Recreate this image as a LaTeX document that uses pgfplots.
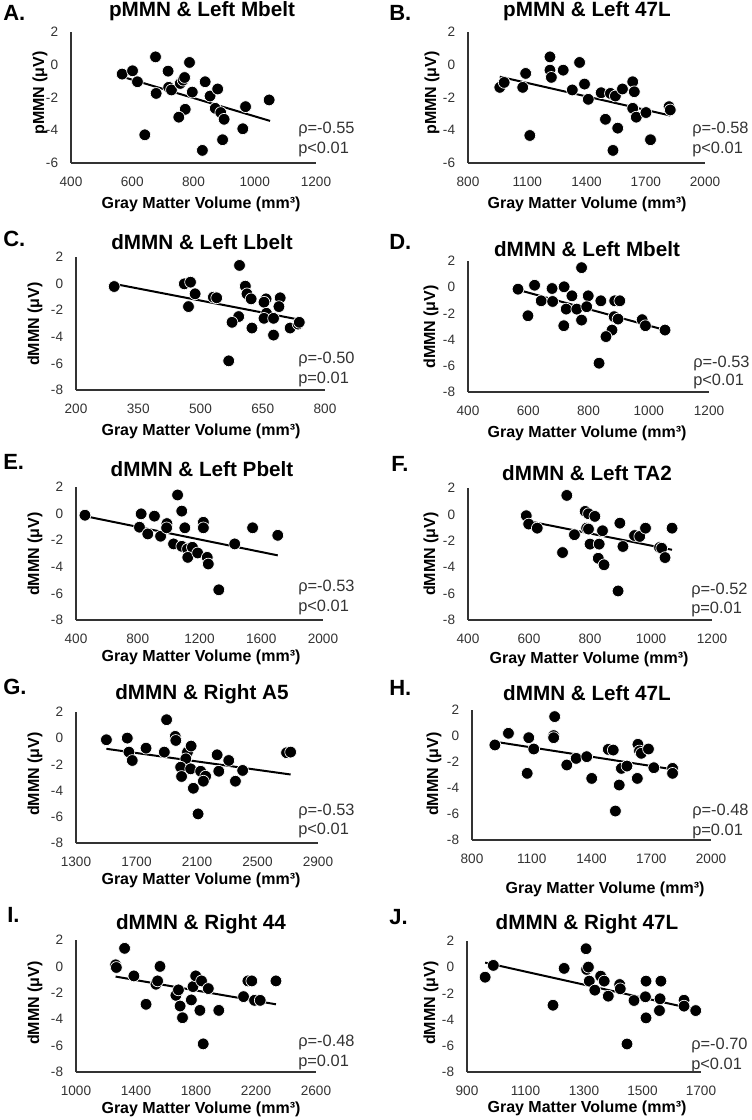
\documentclass[border=0pt]{standalone}
\usepackage{fontspec}
\setmainfont{Liberation Sans}
\usepackage{pgfplots}
\pgfplotsset{compat=1.18}

\pgfplotsset{
  panel/.style={
    scale only axis, anchor=south west, clip=false,
    axis x line=bottom, axis y line=left,
    axis line style={-, draw=black!80, line width=0.8pt},
    major tick length=0pt, tick style={draw=none},
    enlargelimits=false,
    /pgf/number format/assume math mode=true,
    /pgf/number format/1000 sep={},
    scaled ticks=false,
    ticklabel style={font=\fontsize{10.2}{12}\selectfont, text=black!80, inner sep=0pt},
    xticklabel style={anchor=center, yshift=-14pt},
    yticklabel style={anchor=east, xshift=-9.5pt},
  },
  six/.style={ymin=-6, ymax=2, ytick={-6,-4,...,2}},
  eight/.style={ymin=-8, ymax=2, ytick={-8,-6,...,2}},
  dots/.style={only marks, mark=*, mark size=4.4pt,
    mark options={fill=black, draw=white, line width=0.5pt}},
  trend/.style={no marks, black, line width=1.5pt},
}

\begin{document}
\begin{tikzpicture}
\useasboundingbox (0,0) rectangle (564pt,-840pt);

% A
\begin{axis}[panel, six, at={(53.25pt,-122.25pt)}, width=183.75pt, height=98.25pt,
  xmin=400, xmax=1200, xtick={400,600,...,1200}]
\addplot[dots] table {
567 -0.57
601 -0.37
617 -1.04
676 0.48
678 -1.75
641 -4.28
717 -0.39
719 -1.38
728 -1.54
757 -1.14
766 -0.94
771 -0.78
787 0.14
796 -1.67
773 -2.72
752 -3.20
838 -1.04
854 -1.91
879 -1.48
871 -2.66
889 -2.92
900 -3.33
895 -4.58
829 -5.23
970 -2.56
961 -3.91
1047 -2.15
};
\addplot[trend] coordinates {(567,-0.73) (1050,-3.43)};
\end{axis}

% B
\begin{axis}[panel, six, at={(351pt,-122.25pt)}, width=177.75pt, height=98.25pt,
  xmin=800, xmax=2000, xtick={800,1100,...,2000}]
\addplot[dots] table {
961 -1.38
983 -1.08
1077 -1.38
1092 -0.53
1113 -4.32
1215 0.48
1215 -0.33
1222 -0.77
1282 -0.33
1328 -1.54
1365 0.14
1390 -1.18
1409 -2.11
1474 -1.71
1496 -3.33
1521 -1.75
1546 -1.91
1558 -3.87
1534 -5.23
1582 -1.48
1634 -1.04
1642 -1.65
1634 -2.66
1652 -3.20
1701 -2.92
1724 -4.58
1818 -2.56
1824 -2.76
};
\addplot[trend] coordinates {(961,-0.73) (1824,-3.10)};
\end{axis}

% C
\begin{axis}[panel, eight, at={(57pt,-292.5pt)}, width=186.75pt, height=99.75pt,
  xmin=200, xmax=800, xtick={200,350,...,800}]
\addplot[dots] table {
292 -0.22
461 -0.02
476 0.11
487 -0.77
471 -1.73
531 -1.02
539 -1.07
594 1.37
608 -0.19
612 -0.77
622 -1.15
592 -2.48
576 -2.91
568 -5.81
624 -3.34
658 -1.15
653 -1.40
659 -2.23
653 -2.61
676 -2.61
676 -3.87
692 -1.07
689 -1.73
716 -3.34
735 -3.04
738 -2.91
};
\addplot[trend] coordinates {(292,-0.02) (738,-2.71)};
\end{axis}

% D
\begin{axis}[panel, eight, at={(351pt,-294pt)}, width=180.75pt, height=98.25pt,
  xmin=400, xmax=1200, xtick={400,600,...,1200}]
\addplot[dots] table {
566 -0.15
621 0.15
599 -2.18
643 -1.04
679 -0.10
681 -1.09
719 0.03
745 -0.66
726 -1.67
718 -2.94
761 -1.67
777 1.49
799 -0.66
794 -1.49
777 -2.51
841 -1.04
887 -1.04
904 -1.04
885 -2.25
898 -2.43
878 -3.27
858 -3.77
835 -5.80
978 -2.48
989 -2.94
1054 -3.27
};
\addplot[trend] coordinates {(566,-0.20) (1054,-3.27)};
\end{axis}

% E
\begin{axis}[panel, eight, at={(57pt,-465pt)}, width=185.25pt, height=99.75pt,
  xmin=400, xmax=2000, xtick={400,800,...,2000}]
\addplot[dots] table {
458 -0.12
811 -1.02
822 -0.02
865 -1.53
908 -0.19
948 -1.70
989 -0.75
987 -1.07
1058 1.40
1085 0.19
1105 -1.07
1032 -2.28
1085 -2.46
1122 -2.66
1154 -2.53
1124 -3.29
1188 -2.96
1225 -0.65
1225 -1.07
1250 -3.29
1257 -3.79
1325 -5.73
1428 -2.28
1544 -1.07
1707 -1.63
};
\addplot[trend] coordinates {(458,-0.19) (1707,-3.14)};
\end{axis}

% F
\begin{axis}[panel, eight, at={(351pt,-465pt)}, width=183pt, height=99pt,
  xmin=400, xmax=1200, xtick={400,600,...,1200}]
\addplot[dots] table {
591 -0.10
599 -0.73
627 -1.04
724 1.44
710 -2.89
749 -1.54
784 0.23
795 0.05
816 -0.15
789 -1.04
795 -1.11
800 -2.25
830 -2.25
841 -1.24
827 -3.32
846 -3.82
898 -0.66
908 -2.43
892 -5.80
946 -1.60
963 -1.67
982 -1.04
1028 -2.51
1035 -2.56
1046 -3.27
1069 -1.04
};
\addplot[trend] coordinates {(591,-0.48) (1069,-2.68)};
\end{axis}

% G
\begin{axis}[panel, eight, at={(57pt,-632.25pt)}, width=181.5pt, height=98.25pt,
  xmin=1300, xmax=2900, xtick={1300,1700,...,2900}]
\addplot[dots] table {
1501 -0.12
1639 0.01
1650 -1.06
1672 -1.70
1763 -0.76
1884 -1.06
1899 1.41
1956 0.14
1960 -0.17
2037 -1.06
2026 -1.57
2061 -0.60
1992 -2.21
2058 -2.34
1998 -2.92
2076 -3.82
2107 -5.78
2124 -2.52
2157 -2.90
2142 -3.28
2233 -1.27
2244 -2.52
2310 -1.70
2354 -3.28
2402 -2.46
2692 -1.11
2719 -1.06
};
\addplot[trend] coordinates {(1501,-0.81) (2719,-2.77)};
\end{axis}

% H
\begin{axis}[panel, eight, at={(354pt,-630pt)}, width=179.25pt, height=97.5pt,
  xmin=800, xmax=2000, xtick={800,1100,...,2000}]
\addplot[dots] table {
915 -0.69
983 0.21
1085 -0.13
1110 -1.00
1077 -2.87
1210 0.03
1210 -0.13
1215 1.49
1276 -2.23
1323 -1.72
1376 -1.59
1401 -3.26
1484 -1.03
1509 -1.08
1550 -2.49
1539 -3.77
1520 -5.77
1578 -2.31
1633 -0.64
1641 -1.15
1650 -1.33
1630 -3.26
1686 -1.00
1713 -2.44
1807 -2.49
1807 -2.87
};
\addplot[trend] coordinates {(915,-0.44) (1807,-2.56)};
\end{axis}

% I
\begin{axis}[panel, eight, at={(57pt,-804pt)}, width=180pt, height=99pt,
  xmin=1000, xmax=2600, xtick={1000,1400,...,2600}]
\addplot[dots] table {
1264 0.12
1269 -0.08
1324 1.37
1386 -0.72
1467 -2.87
1533 -1.35
1544 -1.10
1560 0.00
1666 -2.19
1683 -1.78
1694 -3.00
1710 -3.89
1769 -2.54
1780 -1.53
1798 -0.72
1837 -1.10
1826 -3.33
1848 -5.87
1882 -1.68
1952 -3.33
2117 -2.29
2146 -1.10
2172 -1.10
2190 -2.57
2228 -2.57
2333 -1.10
};
\addplot[trend] coordinates {(1264,-0.77) (2333,-2.87)};
\end{axis}

% J
\begin{axis}[panel, eight, at={(350.25pt,-804pt)}, width=175.5pt, height=98.25pt,
  xmin=900, xmax=1700, xtick={900,1100,...,1700}]
\addplot[dots] table {
962 -0.76
990 0.14
1194 -2.90
1232 -0.09
1307 1.41
1309 -0.17
1315 0.01
1318 -1.06
1337 -1.75
1357 -0.68
1369 -1.06
1383 -2.21
1422 -1.32
1424 -1.65
1447 -5.86
1471 -2.54
1512 -1.06
1510 -2.26
1512 -3.87
1563 -1.06
1560 -2.41
1558 -3.31
1642 -2.52
1642 -2.97
1682 -3.31
};
\addplot[trend] coordinates {(962,0.35) (1682,-3.23)};
\end{axis}

\begin{scope}[x=0.75pt, y=-0.75pt,
  ttl/.style={font=\bfseries\fontsize{15.5}{18}\selectfont, anchor=base, inner sep=0pt},
  lett/.style={font=\bfseries\fontsize{16.5}{20}\selectfont, anchor=base west, inner sep=0pt},
  xl/.style={font=\bfseries\fontsize{12}{14}\selectfont, anchor=base, inner sep=0pt},
  yl/.style={xl, rotate=90},
  ann/.style={font=\fontsize{12.3}{14}\selectfont, anchor=base west, inner sep=0pt, text=black!80}]
% panel letters
\node[lett] at (3,21) {A.};
\node[lett] at (389,21) {B.};
\node[lett] at (3,246) {C.};
\node[lett] at (389,249) {D.};
\node[lett] at (3,469) {E.};
\node[lett] at (391,471) {F.};
\node[lett] at (3,694) {G.};
\node[lett] at (389,695) {H.};
\node[lett] at (7,922) {I.};
\node[lett] at (389,924) {J.};
% titles
\node[ttl] at (202,17) {pMMN \& Left Mbelt};
\node[ttl] at (587,17) {pMMN \& Left 47L};
\node[ttl] at (202,249) {dMMN \& Left Lbelt};
\node[ttl] at (587,256) {dMMN \& Left Mbelt};
\node[ttl] at (202,476) {dMMN \& Left Pbelt};
\node[ttl] at (587,480) {dMMN \& Left TA2};
\node[ttl] at (202,699) {dMMN \& Right A5};
\node[ttl] at (587,700) {dMMN \& Left 47L};
\node[ttl] at (201,929) {dMMN \& Right 44};
\node[ttl] at (587,929) {dMMN \& Right 47L};
% x labels
\node[xl] at (201,208) {Gray Matter Volume (mm³)};
\node[xl] at (587,209) {Gray Matter Volume (mm³)};
\node[xl] at (201,435) {Gray Matter Volume (mm³)};
\node[xl] at (587,437) {Gray Matter Volume (mm³)};
\node[xl] at (201,661) {Gray Matter Volume (mm³)};
\node[xl] at (589,663) {Gray Matter Volume (mm³)};
\node[xl] at (201,884) {Gray Matter Volume (mm³)};
\node[xl] at (605,893) {Gray Matter Volume (mm³)};
\node[xl] at (201,1113) {Gray Matter Volume (mm³)};
\node[xl] at (587,1112) {Gray Matter Volume (mm³)};
% y labels
\node[yl] at (44,93) {pMMN (μV)};
\node[yl] at (436,93) {pMMN (μV)};
\node[yl] at (39,324) {dMMN (μV)};
\node[yl] at (435,327) {dMMN (μV)};
\node[yl] at (39,554) {dMMN (μV)};
\node[yl] at (435,554) {dMMN (μV)};
\node[yl] at (39,774) {dMMN (μV)};
\node[yl] at (438,774) {dMMN (μV)};
\node[yl] at (39,1003) {dMMN (μV)};
\node[yl] at (435,1003) {dMMN (μV)};
% statistics
\node[ann] at (298,134) {ρ=-0.55};  \node[ann] at (298,154) {p<0.01};
\node[ann] at (692,134) {ρ=-0.58};  \node[ann] at (692,154) {p<0.01};
\node[ann] at (298,363) {ρ=-0.50};  \node[ann] at (298,383) {p=0.01};
\node[ann] at (693,367) {ρ=-0.53};  \node[ann] at (693,385) {p<0.01};
\node[ann] at (298,591) {ρ=-0.53};  \node[ann] at (298,611) {p<0.01};
\node[ann] at (691,594) {ρ=-0.52};  \node[ann] at (691,613) {p=0.01};
\node[ann] at (298,815) {ρ=-0.53};  \node[ann] at (298,834) {p<0.01};
\node[ann] at (692,815) {ρ=-0.48};  \node[ann] at (692,835) {p=0.01};
\node[ann] at (298,1046) {ρ=-0.48}; \node[ann] at (298,1066) {p=0.01};
\node[ann] at (691,1049) {ρ=-0.70}; \node[ann] at (691,1069) {p<0.01};
\end{scope}
\end{tikzpicture}
\end{document}
